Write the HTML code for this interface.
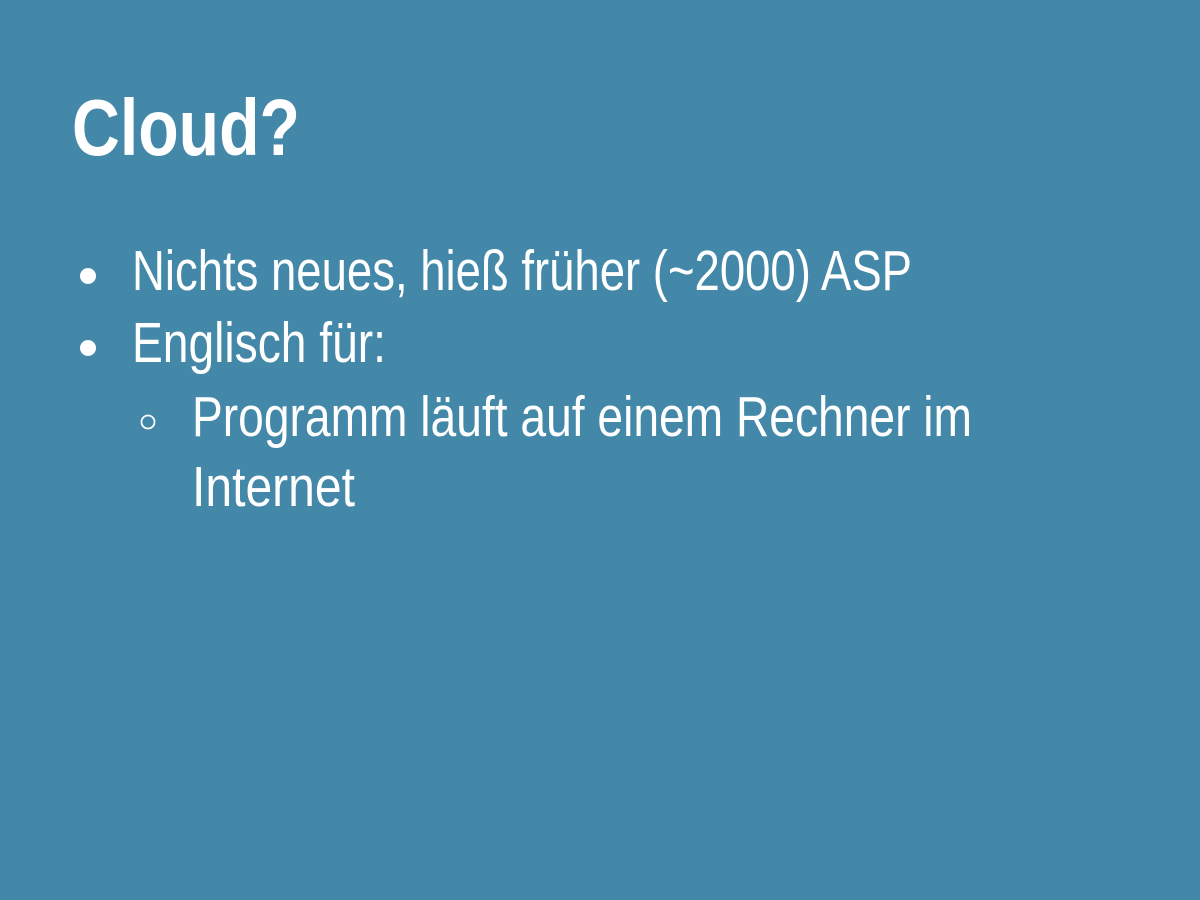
<!DOCTYPE html>
<html><head><meta charset="utf-8"><style>
html,body{margin:0;padding:0;background:#4388a8;}
svg{display:block}
</style></head><body>
<svg width="1200" height="900" xmlns="http://www.w3.org/2000/svg">
<rect width="1200" height="900" fill="#4388a8"/>
<g fill="#fff" font-family="'Liberation Sans', sans-serif">
<text x="72" y="155" font-size="80" font-weight="bold" textLength="228" lengthAdjust="spacingAndGlyphs">Cloud?</text>
<g font-family="'Liberation Sans Narrow','Liberation Sans',sans-serif" font-size="57">
<text x="132" y="290" textLength="780" lengthAdjust="spacingAndGlyphs">Nichts neues, hieß früher (~2000) ASP</text>
<text x="132" y="362" textLength="254" lengthAdjust="spacingAndGlyphs">Englisch für:</text>
<text x="192" y="436" textLength="780" lengthAdjust="spacingAndGlyphs">Programm läuft auf einem Rechner im</text>
<text x="192" y="506" textLength="163" lengthAdjust="spacingAndGlyphs">Internet</text>
</g>
<circle cx="88" cy="276" r="8"/>
<circle cx="88" cy="348" r="8"/>
</g>
<circle cx="148" cy="422" r="6.5" fill="none" stroke="#fff" stroke-width="1.8"/>
</svg>
</body></html>
